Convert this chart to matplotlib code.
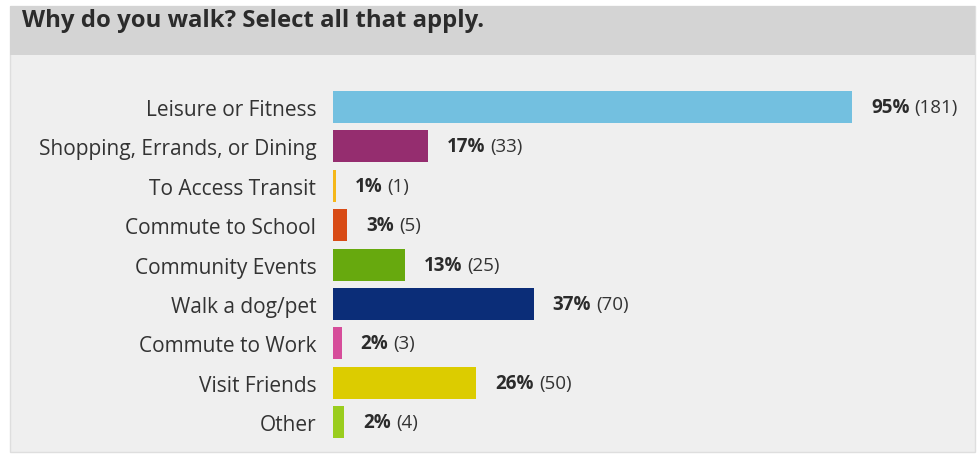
import matplotlib
matplotlib.use("Agg")
import matplotlib.pyplot as plt
from matplotlib.patches import Rectangle
from matplotlib.transforms import offset_copy

categories = ["Leisure or Fitness", "Shopping, Errands, or Dining", "To Access Transit",
              "Commute to School", "Community Events", "Walk a dog/pet",
              "Commute to Work", "Visit Friends", "Other"]
percents = [95, 17, 1, 3, 13, 37, 2, 26, 2]
counts = [181, 33, 1, 5, 25, 70, 3, 50, 4]
colors = ["#73c0e0", "#952d6f", "#f5b719", "#d84b16", "#67a90e",
          "#0b2d78", "#d64d9a", "#dccc00", "#9acd1e"]
title = "Why do you walk? Select all that apply."

W, H = 979, 456
plt.rcParams["font.family"] = ["Open Sans", "DejaVu Sans"]
fig = plt.figure(figsize=(W / 100, H / 100), dpi=100)
fig.patch.set_facecolor("white")

def fx(px):
    return px / W

def fy(py):
    return 1 - py / H

# panel body
fig.patches.append(Rectangle((fx(10), fy(453)), fx(965), (453 - 7) / H,
                             transform=fig.transFigure, facecolor="#efefef",
                             edgecolor="#dedede", linewidth=1, zorder=-3))
# title bar
fig.patches.append(Rectangle((fx(10), fy(56)), fx(965), (56 - 7) / H,
                             transform=fig.transFigure, facecolor="#d4d4d4",
                             edgecolor="none", zorder=-2))
fig.text(fx(22), fy(21), title, fontsize=17.2, fontweight="bold",
         color="#2b2b2b", va="center", ha="left")

# axes
x0, x1 = 333, 975
ytop, ybot = 88.3, 442.9
ax = fig.add_axes([fx(x0), fy(ybot), fx(x1 - x0), (ybot - ytop) / H])
ax.set_facecolor("none")
px_per = (852 - 333) / counts[0]
ax.set_xlim(0, (x1 - x0) / px_per)
ax.set_ylim(len(categories) - 0.5, -0.5)
ypos = list(range(len(categories)))
ax.barh(ypos, counts, height=0.81, color=colors, edgecolor="none")
for s in ax.spines.values():
    s.set_visible(False)
ax.set_xticks([])
ax.set_yticks(ypos)
ax.set_yticklabels(categories, fontsize=15, color="#333333")
ax.tick_params(axis="y", length=0, pad=12)

fig.canvas.draw()
renderer = fig.canvas.get_renderer()
for i, (p, c) in enumerate(zip(percents, counts)):
    t1 = ax.text(c, i, f"{p}%", fontsize=13.5, fontweight="bold", color="#2b2b2b",
                 va="center", ha="left",
                 transform=offset_copy(ax.transData, fig=fig, x=19 * 0.72, y=0, units="points"))
    bb = t1.get_window_extent(renderer)
    ax.text(bb.x1 + 5, bb.y0 + bb.height / 2, f"({c})", fontsize=13.5, color="#333333",
            va="center", ha="left", transform=None)

fig.savefig("out.png", dpi=100, facecolor=fig.get_facecolor())
